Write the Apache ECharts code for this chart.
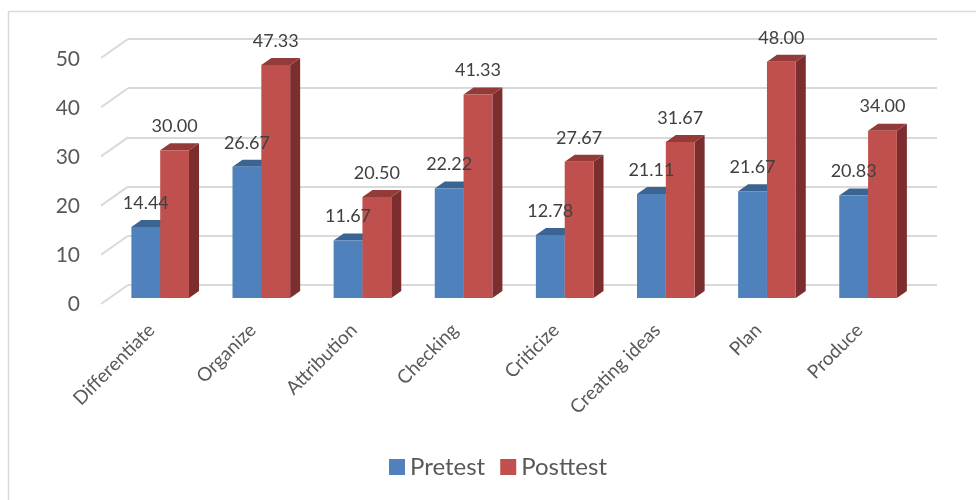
<!DOCTYPE html>
<html>
<head>
<meta charset="utf-8">
<script src="https://cdn.jsdelivr.net/npm/echarts@6/dist/echarts.min.js"></script>
<style>
  html, body { margin: 0; padding: 0; background: #fff; }
  #chart { width: 976px; height: 500px; }
</style>
</head>
<body>
<div id="chart"></div>
<script>
// 数据
var categories = ['Differentiate', 'Organize', 'Attribution', 'Checking', 'Criticize', 'Creating ideas', 'Plan', 'Produce'];
var pretest = [14.44, 26.67, 11.67, 22.22, 12.78, 21.11, 21.67, 20.83];
var posttest = [30.00, 47.33, 20.50, 41.33, 27.67, 31.67, 48.00, 34.00];
var yTicks = [0, 10, 20, 30, 40, 50];

var FONT = 'Lato';
// depth of the 3d floor (back wall -> front edge)
var DX = -27, DY = 19;
// bar front face sits this far from the back wall
var FRONT = 0.68;
var BAR_DEPTH = [10, -7];

var colors = {
  Pretest: { front: '#4f81bd', top: '#3a6592', side: '#2f537a' },
  Posttest: { front: '#c0504d', top: '#933b39', side: '#7b2e2d' }
};

function barRenderer(name, side) {
  var c = colors[name];
  return function (params, api) {
    var idx = api.value(0);
    var val = api.value(1);
    var top = api.coord([idx, val]);
    var base = api.coord([idx, 0]);
    var band = api.size([1, 0])[0];
    var w = band * 0.285;
    var ox = DX * FRONT, oy = DY * FRONT;
    var x0 = top[0] + ox + (side < 0 ? -w : 0);
    var x1 = x0 + w;
    var yt = top[1] + oy;
    var yb = base[1] + oy;
    var dx = BAR_DEPTH[0], dy = BAR_DEPTH[1];
    return {
      type: 'group',
      children: [
        { type: 'polygon', shape: { points: [[x1, yt], [x1 + dx, yt + dy], [x1 + dx, yb + dy], [x1, yb]] }, style: { fill: c.side } },
        { type: 'polygon', shape: { points: [[x0, yt], [x0 + dx, yt + dy], [x1 + dx, yt + dy], [x1, yt]] }, style: { fill: c.top } },
        { type: 'rect', shape: { x: x0, y: yt, width: w, height: yb - yt }, style: { fill: c.front } },
        {
          type: 'text', z2: 100,
          style: {
            x: (x0 + x1) / 2, y: yt - 15,
            text: val.toFixed(2),
            align: 'center', verticalAlign: 'bottom',
            fill: '#404040', font: '18px ' + FONT
          }
        }
      ]
    };
  };
}

var chart = echarts.init(document.getElementById('chart'));

var option = {
  animation: false,
  textStyle: { fontFamily: FONT },
  graphic: [{
    type: 'rect', silent: true, z: -10,
    shape: { x: 8.5, y: 11.5, width: 1000, height: 600 },
    style: { fill: 'none', stroke: '#d9d9d9', lineWidth: 1.5 }
  }],
  legend: {
    left: 384, top: 450,
    itemWidth: 16, itemHeight: 16, itemGap: 15,
    icon: 'rect',
    textStyle: { fontSize: 24, color: '#595959', fontFamily: FONT },
    data: [
      { name: 'Pretest', itemStyle: { color: colors.Pretest.front } },
      { name: 'Posttest', itemStyle: { color: colors.Posttest.front } }
    ]
  },
  grid: [
    // back wall
    { left: 128, right: 39, top: 39, bottom: 215 },
    // front edge (labels)
    { left: 101, right: 66, top: 59, bottom: 196 }
  ],
  xAxis: [
    { gridIndex: 0, type: 'category', data: categories, show: false },
    {
      gridIndex: 1, type: 'category', data: categories,
      axisLine: { show: false }, axisTick: { show: false },
      axisLabel: { rotate: 45, margin: 23, fontSize: 19, color: '#595959', fontFamily: FONT, interval: 0 }
    }
  ],
  yAxis: [
    {
      gridIndex: 0, type: 'value', min: 0, max: 50, interval: 10,
      axisLine: { show: false }, axisTick: { show: false }, axisLabel: { show: false },
      splitLine: { lineStyle: { color: '#d9d9d9', width: 2 } }
    },
    {
      gridIndex: 1, type: 'value', min: 0, max: 50, interval: 10,
      axisLine: { show: false }, axisTick: { show: false }, splitLine: { show: false },
      axisLabel: { margin: 21, fontSize: 21, color: '#595959', fontFamily: FONT }
    }
  ],
  series: [
    {
      // floor diagonals on the left side wall
      type: 'custom', name: 'floor', xAxisIndex: 0, yAxisIndex: 0,
      data: yTicks.map(function (v) { return [0, v]; }),
      encode: { x: 0, y: 1 },
      silent: true, z: 1,
      renderItem: function (params, api) {
        var p = api.coord([0, api.value(1)]);
        var x = params.coordSys.x;
        return {
          type: 'line',
          shape: { x1: x, y1: p[1], x2: x + DX, y2: p[1] + DY },
          style: { stroke: '#d9d9d9', lineWidth: 2 }
        };
      }
    },
    {
      type: 'custom', name: 'Pretest', xAxisIndex: 0, yAxisIndex: 0,
      data: pretest.map(function (v, i) { return [i, v]; }),
      encode: { x: 0, y: 1 },
      renderItem: barRenderer('Pretest', -1)
    },
    {
      type: 'custom', name: 'Posttest', xAxisIndex: 0, yAxisIndex: 0,
      data: posttest.map(function (v, i) { return [i, v]; }),
      encode: { x: 0, y: 1 },
      renderItem: barRenderer('Posttest', 1)
    }
  ]
};

chart.setOption(option);
</script>
</body>
</html>
